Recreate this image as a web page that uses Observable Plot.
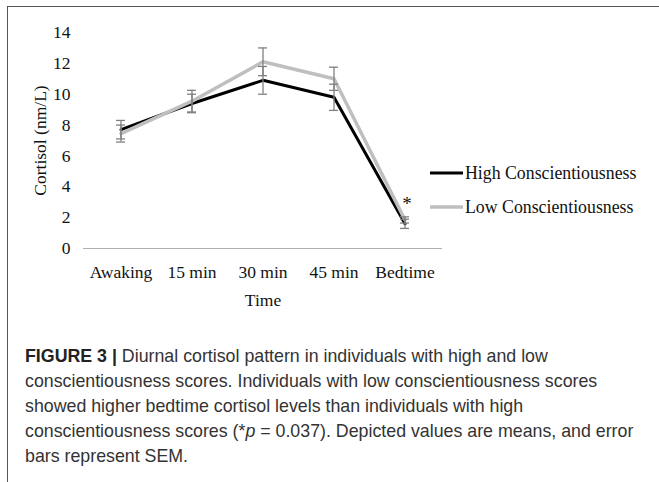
<!DOCTYPE html>
<html>
<head>
<meta charset="utf-8">
<script src="https://cdn.jsdelivr.net/npm/d3@7"></script>
<script src="https://cdn.jsdelivr.net/npm/@observablehq/plot@0.6"></script>
<style>
  html, body { margin: 0; padding: 0; background: #fff; }
  body { width: 659px; height: 482px; position: relative; overflow: hidden; }
  #frame { position: absolute; left: 7px; top: 6px; width: 700px; height: 500px;
           border-left: 1.5px solid #555; border-top: 1.5px solid #555; }
  #chart { position: absolute; left: 0; top: 0; }
  #legend { position: absolute; left: 430px; top: 156px; font-family: "Liberation Serif", serif;
            font-size: 17.8px; color: #111; }
  #legend .row { display: flex; align-items: center; height: 34px; }
  #legend svg { display: block; margin-right: 2px; }
  #caption { position: absolute; left: 25px; top: 344px; width: 640px; font-family: "Liberation Sans", Arial, sans-serif;
             font-size: 17.8px; line-height: 25px; color: #333; white-space: nowrap; }
  #caption b { color: #222; }
</style>
</head>
<body>
<div id="frame"></div>
<div id="chart"></div>
<div id="legend"></div>
<div id="caption"><b>FIGURE 3 |</b> Diurnal cortisol pattern in individuals with high and low<br>conscientiousness scores. Individuals with low conscientiousness scores<br>showed higher bedtime cortisol levels than individuals with high<br>conscientiousness scores (*<i>p</i> = 0.037). Depicted values are means, and error<br>bars represent SEM.</div>
<script>
const times = ["Awaking", "15 min", "30 min", "45 min", "Bedtime"];
const seriesNames = ["High Conscientiousness", "Low Conscientiousness"];
const highMean = [7.7, 9.4, 10.9, 9.8, 1.6];
const highSem = [0.6, 0.6, 0.9, 0.85, 0.3];
const lowMean = [7.45, 9.55, 12.1, 11.0, 1.85];
const lowSem = [0.55, 0.7, 0.9, 0.75, 0.2];
const yTicks = [0, 2, 4, 6, 8, 10, 12, 14];
const seriesColors = ["#000000", "#bfbfbf"];

const rows = [];
times.forEach((t, i) => {
  rows.push({time: t, series: seriesNames[0], mean: highMean[i], lo: highMean[i] - highSem[i], hi: highMean[i] + highSem[i]});
  rows.push({time: t, series: seriesNames[1], mean: lowMean[i], lo: lowMean[i] - lowSem[i], hi: lowMean[i] + lowSem[i]});
});
const highRows = rows.filter(d => d.series === seriesNames[0]);
const lowRows = rows.filter(d => d.series === seriesNames[1]);
const starRow = [{time: "Bedtime", y: lowMean[4] + 0.9, label: "*"}];

const plot = Plot.plot({
  width: 659,
  height: 320,
  marginLeft: 83,
  marginRight: 217,
  marginTop: 32,
  marginBottom: 72,
  style: {fontFamily: "Liberation Serif, serif", fontSize: "17.5px", color: "#111", background: "transparent"},
  x: {type: "band", domain: times, padding: 0},
  y: {domain: [0, 14]},
  marks: [
    Plot.ruleY([0], {stroke: "#b0b0b0", strokeWidth: 1.2}),
    Plot.ruleX([0], {frameAnchor: "left", stroke: "#b0b0b0", strokeWidth: 1.2}),
    Plot.axisY(yTicks, {tickSize: 0, tickPadding: 13, label: "Cortisol (nm/L)", labelAnchor: "center", labelArrow: "none", labelOffset: 50, fontSize: 17.5}),
    Plot.axisX({tickSize: 0, tickPadding: 17, label: "Time", labelAnchor: "center", labelArrow: "none", labelOffset: 57, fontSize: 17.5}),
    Plot.line(highRows, {x: "time", y: "mean", stroke: seriesColors[0], strokeWidth: 3}),
    Plot.line(lowRows, {x: "time", y: "mean", stroke: seriesColors[1], strokeWidth: 3.5}),
    Plot.ruleX(rows, {x: "time", y1: "lo", y2: "hi", stroke: "#808080", strokeWidth: 1.3}),
    Plot.tickY(rows, {x: "time", y: "lo", stroke: "#808080", strokeWidth: 1.3, inset: 31}),
    Plot.tickY(rows, {x: "time", y: "hi", stroke: "#808080", strokeWidth: 1.3, inset: 31}),
    Plot.text(starRow, {x: "time", y: "y", text: "label", fontSize: 19, fill: "#111", dx: 2, dy: -2})
  ]
});
document.getElementById("chart").appendChild(plot);

const legend = document.getElementById("legend");
seriesNames.forEach((name, i) => {
  const row = document.createElement("div");
  row.className = "row";
  row.innerHTML = `<svg width="33" height="10"><line x1="0" x2="33" y1="5" y2="5" stroke="${seriesColors[i]}" stroke-width="${i ? 3.5 : 3}"/></svg><span>${name}</span>`;
  legend.appendChild(row);
});
</script>
</body>
</html>
